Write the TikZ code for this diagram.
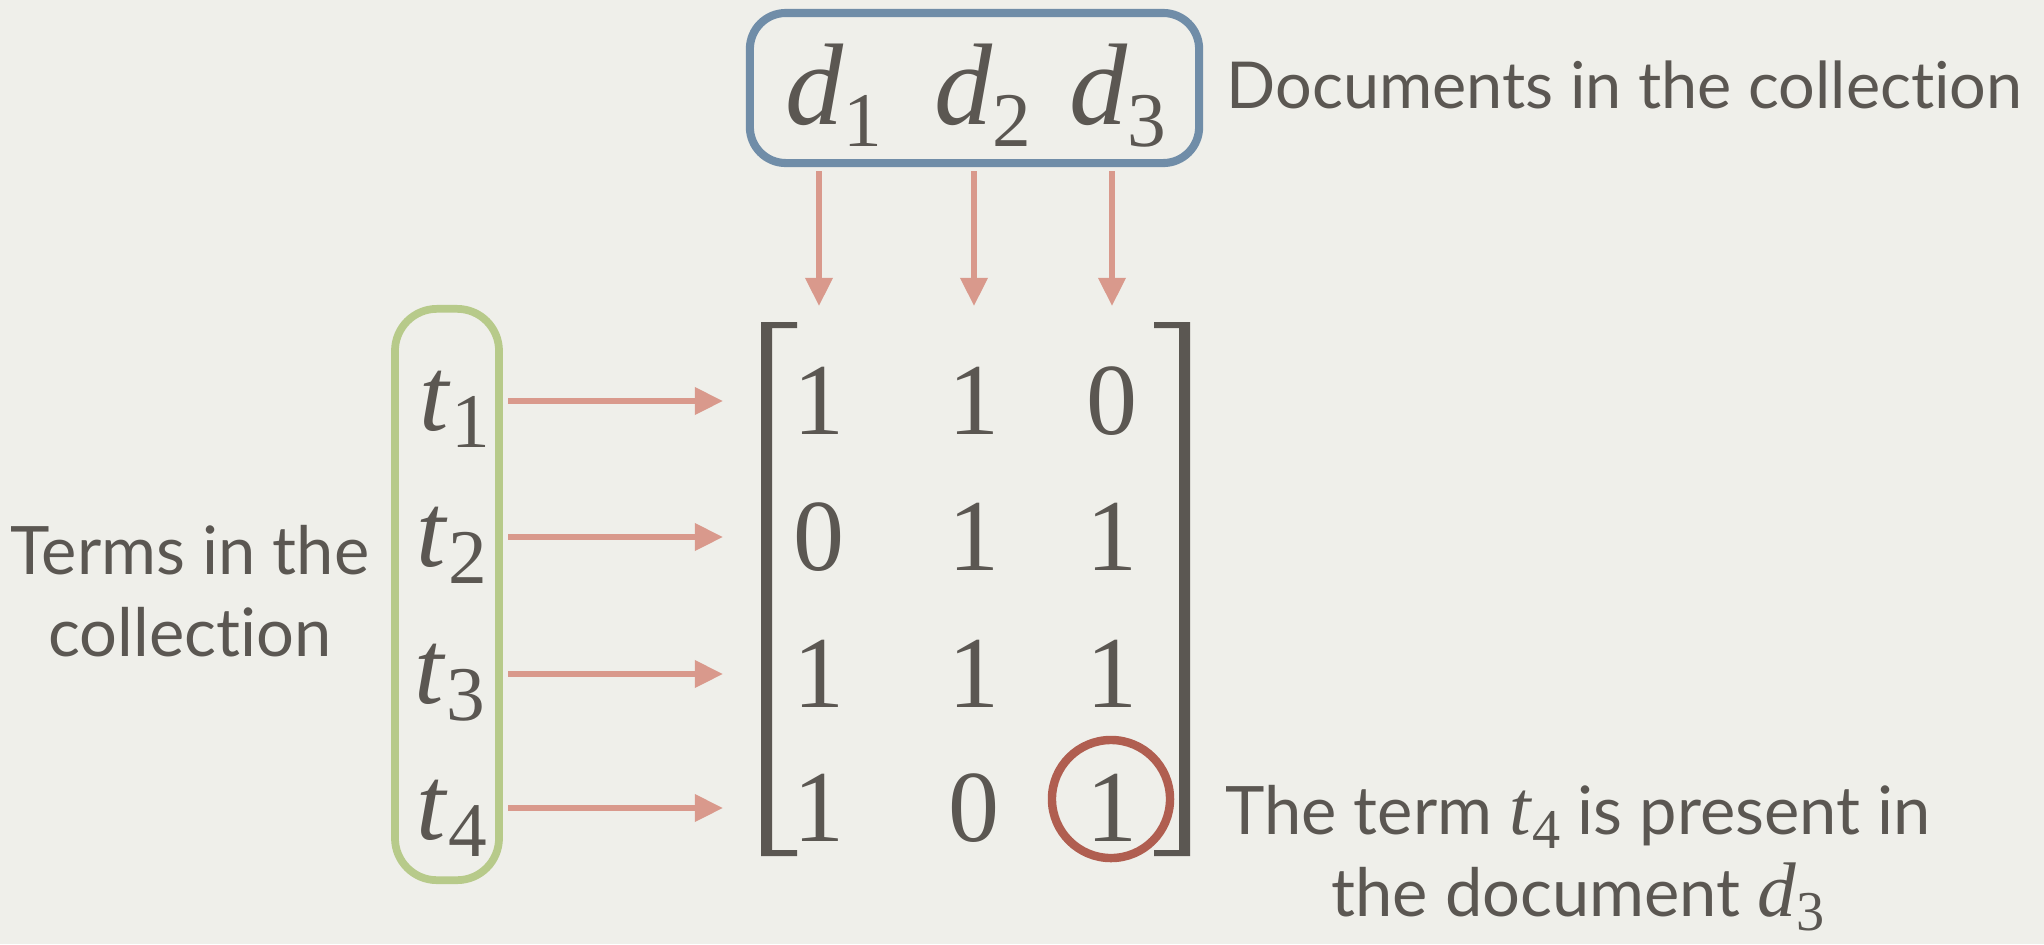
\documentclass[tikz,border=0pt]{standalone}
\usepackage{fontspec}
\setmainfont[Ligatures=NoCommon]{Lato}
\newfontfamily\tms{Liberation Serif}
\usetikzlibrary{arrows.meta}
\definecolor{bgc}{RGB}{239,239,234}
\definecolor{txc}{RGB}{91,87,82}
\definecolor{bluc}{RGB}{112,141,168}
\definecolor{grnc}{RGB}{183,202,138}
\definecolor{salc}{RGB}{217,153,140}
\definecolor{redc}{RGB}{176,94,80}
\newcommand\dsym[2]{{\tms\fontsize{33}{33}\selectfont\textit{#1}\raisebox{-6.5pt}{\fontsize{22}{22}\selectfont #2}}}
\newcommand\tsym[2]{{\tms\fontsize{30}{30}\selectfont\textit{#1}\raisebox{-5pt}{\fontsize{22}{22}\selectfont #2}}}
\newcommand\ssym[2]{{\tms\fontsize{22}{22}\selectfont\textit{#1}\raisebox{-4pt}{\fontsize{16}{16}\selectfont #2}}}
\tikzset{
  arr/.style={draw=salc, line width=1.6pt, -{Triangle[length=8pt,width=7.5pt]}},
  entry/.style={inner sep=0pt, text=txc, font=\tms\fontsize{29}{29}\selectfont},
  lbl/.style={inner sep=0pt, text=txc, font=\fontsize{19}{23.3}\selectfont},
  sym/.style={inner sep=0pt, text=txc}
}
\begin{document}
\begin{tikzpicture}[x=0.01cm, y=-0.01cm]
\fill[bgc] (0,0) rectangle (2044,944);
\useasboundingbox (0,0) rectangle (2044,944);
% matrix entries
\node[entry] (m11) at (819,401) {1};
\node[entry] (m12) at (974,401) {1};
\node[entry] (m13) at (1112,401) {0};
\node[entry] (m21) at (819,537) {0};
\node[entry] (m22) at (974,537) {1};
\node[entry] (m23) at (1112,537) {1};
\node[entry] (m31) at (819,674) {1};
\node[entry] (m32) at (974,674) {1};
\node[entry] (m33) at (1112,674) {1};
\node[entry] (m41) at (819,808) {1};
\node[entry] (m42) at (974,808) {0};
\node[entry] (m43) at (1112,808) {1};
% brackets
\fill[txc] (761,322) -- (797,322) -- (797,328) -- (772,328) -- (772,850) -- (797,850) -- (797,856) -- (761,856) -- cycle;
\fill[txc] (1190,322) -- (1154,322) -- (1154,328) -- (1179,328) -- (1179,850) -- (1154,850) -- (1154,856) -- (1190,856) -- cycle;
% circle
\node[circle, draw=redc, line width=2.4pt, minimum size=1.18cm, inner sep=0pt] (hl) at (1111,799) {};
% document symbols
\node[sym, anchor=base] (d1) at (834,124) {\dsym{d}{1}};
\node[sym, anchor=base] (d2) at (983,124) {\dsym{d}{2}};
\node[sym, anchor=base] (d3) at (1118,124) {\dsym{d}{3}};
% term symbols
\node[sym, anchor=base] (t1) at (455,430) {\tsym{t}{1}};
\node[sym, anchor=base] (t2) at (452,566) {\tsym{t}{2}};
\node[sym, anchor=base] (t3) at (450,703) {\tsym{t}{3}};
\node[sym, anchor=base] (t4) at (452,839) {\tsym{t}{4}};
% arrows
\coordinate (atip) at (0,306);
\coordinate (htip) at (723,0);
\node[draw=grnc, line width=2.2pt, rounded corners=0.42cm, minimum width=1.04cm, minimum height=5.71cm, inner sep=0pt] (gbox) at (447,594.5) {};
\draw[arr, shorten <=1.5pt] (gbox.east |- m11) -- (htip |- m11);
\draw[arr, shorten <=1.5pt] (gbox.east |- m21) -- (htip |- m21);
\draw[arr, shorten <=1.5pt] (gbox.east |- m31) -- (htip |- m31);
\draw[arr, shorten <=1.5pt] (gbox.east |- m41) -- (htip |- m41);
\node[draw=bluc, line width=2.3pt, rounded corners=0.36cm, minimum width=4.49cm, minimum height=1.5cm, inner sep=0pt] (dbox) at (974.5,88) {};
\draw[arr, shorten <=1.2pt] (dbox.south -| m11) -- (atip -| m11);
\draw[arr, shorten <=1.2pt] (dbox.south -| m12) -- (atip -| m12);
\draw[arr, shorten <=1.2pt] (dbox.south -| m13) -- (atip -| m13);
% labels
\node[lbl, anchor=base west, font=\fontsize{18.4}{23.3}\selectfont] (dl) at (1226,108) {Documents in the collection};
\node[lbl, anchor=base, align=center] (tl) at (190,656) {Terms in the\\collection};
\node[lbl, anchor=base, align=center] (pl) at (1578,916) {The term \ssym{t}{4} is present in\\the document \ssym{d}{3}};
\end{tikzpicture}
\end{document}
